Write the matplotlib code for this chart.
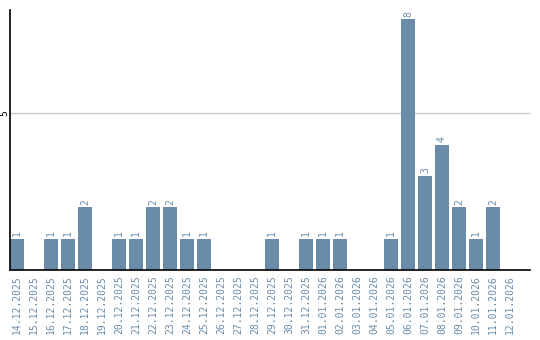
import numpy as np
import matplotlib.pyplot as plt

# dates and counts
dates = ["14.12.2025", "15.12.2025", "16.12.2025", "17.12.2025", "18.12.2025",
         "19.12.2025", "20.12.2025", "21.12.2025", "22.12.2025", "23.12.2025",
         "24.12.2025", "25.12.2025", "26.12.2025", "27.12.2025", "28.12.2025",
         "29.12.2025", "30.12.2025", "31.12.2025", "01.01.2026", "02.01.2026",
         "03.01.2026", "04.01.2026", "05.01.2026", "06.01.2026", "07.01.2026",
         "08.01.2026", "09.01.2026", "10.01.2026", "11.01.2026", "12.01.2026"]
counts = [1, 0, 1, 1, 2, 0, 1, 1, 2, 2, 1, 1, 0, 0, 0,
          1, 0, 1, 1, 1, 0, 0, 1, 8, 3, 4, 2, 1, 2, 0]
yticks = [5]

color = '#6a8caa'
mono = 'DejaVu Sans Mono'

fig = plt.figure(figsize=(5.4, 3.4), dpi=100)
ax = fig.add_axes([10 / 540, 1 - 270 / 340, 520 / 540, 260 / 340])

x = np.arange(len(dates))
bars = ax.bar(x, counts, width=0.82, color=color, zorder=2)
labels = [str(c) if c > 0 else '' for c in counts]
ax.bar_label(bars, labels=labels, rotation=90, padding=2, color=color,
             fontsize=7, family=mono)

# 17 px per day, first bar flush with the y axis
ax.set_xlim(-0.41, -0.41 + 520 / 17)
ax.set_ylim(0, 8.3)
ax.set_xticks(x)
ax.set_xticklabels(dates, rotation=90, color=color, fontsize=7, family=mono)
ax.set_yticks(yticks)
ax.set_yticklabels([str(v) for v in yticks], rotation=90, fontsize=7,
                   family=mono, va='center')
ax.tick_params(axis='x', length=0, pad=4)
ax.tick_params(axis='y', length=0, pad=0.5)
ax.yaxis.grid(True, color='#c8c8c8', linewidth=1, zorder=0)

for s in ['top', 'right']:
    ax.spines[s].set_visible(False)
ax.spines['left'].set_color('black')
ax.spines['bottom'].set_color('black')
ax.spines['left'].set_linewidth(1.2)
ax.spines['bottom'].set_linewidth(1.2)

fig.savefig('out.png', dpi=100)
